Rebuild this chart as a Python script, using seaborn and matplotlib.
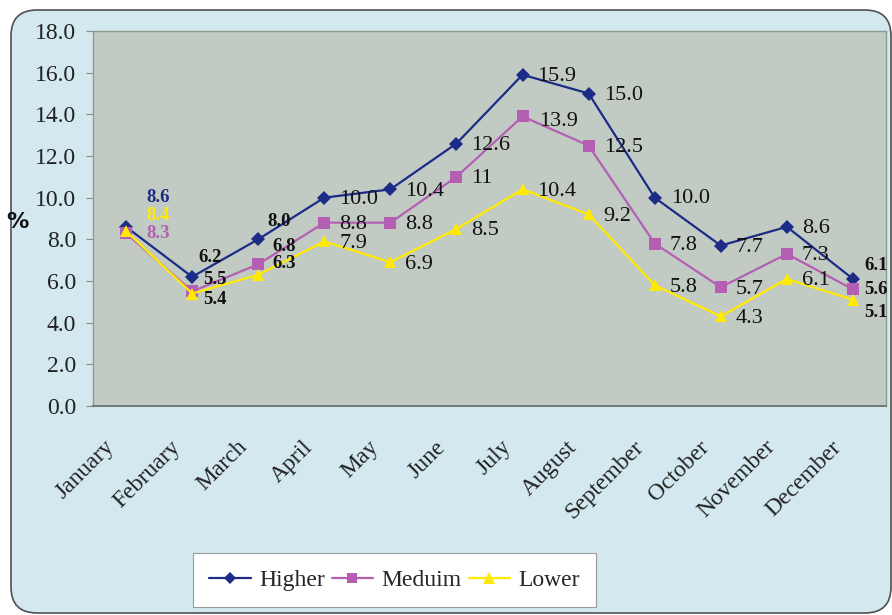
import matplotlib
matplotlib.use("Agg")
import matplotlib.pyplot as plt
from matplotlib.patches import FancyBboxPatch
from matplotlib.transforms import IdentityTransform, ScaledTranslation
from matplotlib.lines import Line2D
import numpy as np
import pandas as pd
import seaborn as sns

# ---- data -------------------------------------------------------------
months = ["January", "February", "March", "April", "May", "June", "July",
          "August", "September", "October", "November", "December"]
higher = [8.6, 6.2, 8.0, 10.0, 10.4, 12.6, 15.9, 15.0, 10.0, 7.7, 8.6, 6.1]
medium = [8.3, 5.5, 6.8, 8.8, 8.8, 11, 13.9, 12.5, 7.8, 5.7, 7.3, 5.6]
lower = [8.4, 5.4, 6.3, 7.9, 6.9, 8.5, 10.4, 9.2, 5.8, 4.3, 6.1, 5.1]
medium_text = ["8.3", "5.5", "6.8", "8.8", "8.8", "11", "13.9", "12.5",
               "7.8", "5.7", "7.3", "5.6"]
series_names = ["Higher", "Meduim", "Lower"]
y_ticks = [0, 2, 4, 6, 8, 10, 12, 14, 16, 18]

# ---- styles -----------------------------------------------------------
colors = {"Higher": "#1c2b86", "Meduim": "#b45fb4", "Lower": "#ffea00"}
markers = {"Higher": "D", "Meduim": "s", "Lower": "^"}
msizes = {"Higher": 7, "Meduim": 8.5, "Lower": 9}
serif = "Liberation Serif"

# label offsets in pixels (dx, dy); default sits to the right of each point
DEFAULT = (15, -2)
offsets = {
    "Higher": {0: (20, 29), 1: (6, 19), 2: (9, 18), 8: (16, -1), 11: (11, 13)},
    "Meduim": {0: (20, 0), 1: (11, 12), 2: (14, 18), 6: (17, -5), 11: (11, 0)},
    "Lower": {0: (20, 15), 1: (11, -6), 2: (14, 11), 11: (11, -13)},
}
bold_idx = {0, 1, 2, 11}

sns.set_theme(style="white")
plt.rcParams["font.family"] = [serif, "DejaVu Serif"]

W, H, DPI = 892, 615, 100
fig = plt.figure(figsize=(W / DPI, H / DPI), dpi=DPI, facecolor="white")

# rounded background card
card = FancyBboxPatch((11, 2), 880, 603,
                      boxstyle="round,pad=0,rounding_size=26",
                      transform=IdentityTransform(), facecolor="#d3e8ef",
                      edgecolor="#505050", linewidth=1.2, zorder=-10)
fig.patches.append(card)

left, right, top, bottom = 93, 886, 31, 406
ax = fig.add_axes([left / W, 1 - bottom / H, (right - left) / W, (bottom - top) / H])
ax.set_facecolor("#c2cbc3")

df = pd.DataFrame({
    "idx": list(range(len(months))) * 3,
    "value": higher + medium + lower,
    "series": np.repeat(series_names, len(months)),
})

for name in series_names:
    sub = df[df["series"] == name]
    sns.lineplot(data=sub, x="idx", y="value", ax=ax, color=colors[name],
                 linewidth=1.6, marker=markers[name], markersize=msizes[name],
                 markeredgewidth=0, label=name, legend=False, zorder=3)

values = {"Higher": higher, "Meduim": medium, "Lower": lower}
texts = {"Higher": [f"{v:.1f}" for v in higher],
         "Meduim": medium_text,
         "Lower": [f"{v:.1f}" for v in lower]}

for name in series_names:
    for i, v in enumerate(values[name]):
        dx, dy = offsets[name].get(i, DEFAULT)
        is_bold = i in bold_idx
        col = colors[name] if i == 0 else "#111111"
        ax.annotate(texts[name][i], (i, v), xytext=(dx, dy),
                    textcoords="offset pixels", ha="left", va="center",
                    fontsize=13.5 if is_bold else 16,
                    fontweight="bold" if is_bold else "normal",
                    color=col, family=serif, zorder=4)

ax.set_xlim(-0.5, len(months) - 0.5)
ax.set_ylim(0, 18)
ax.set_yticks(y_ticks)
ax.set_yticklabels([f"{t:.1f}" for t in y_ticks], fontsize=17, color="#222222")
ax.set_xticks(np.arange(-0.5, len(months)), minor=True)
ax.tick_params(axis="x", which="major", length=0, pad=22)
ax.tick_params(axis="x", which="minor", length=6, width=0.8, color="#8a8a8a",
               direction="out")
ax.tick_params(axis="y", which="major", length=5, width=0.8, color="#8a8a8a",
               direction="out", pad=7, left=True)
ax.set_xlabel("")
ax.set_ylabel("")
for s in ["top", "right", "left"]:
    ax.spines[s].set_color("#8e9a90")
    ax.spines[s].set_linewidth(1.0)
ax.spines["bottom"].set_color("#6f7a72")
ax.spines["bottom"].set_linewidth(1.4)

# month names: rotated, nudged left so their ends sit just left of each slot
ax.set_xticks(range(len(months)))
ax.set_xticklabels(months, rotation=45, ha="right", rotation_mode="anchor",
                   fontsize=17, color="#222222")
fig.canvas.draw()
shift = ScaledTranslation(-22 / DPI, 0, fig.dpi_scale_trans)
for lab in ax.xaxis.get_majorticklabels():
    lab.set_transform(lab.get_transform() + shift)

fig.text(6 / W, 1 - 222 / H, "%", fontsize=16, fontweight="bold",
         family="DejaVu Sans", color="#111111", ha="left", va="center")

handles = [Line2D([0], [0], color=colors[n], marker=markers[n],
                  markersize=msizes[n] - 1, markeredgewidth=0, linewidth=1.6)
           for n in series_names]
leg = fig.legend(handles, series_names, loc="center",
                 bbox_to_anchor=(394.5 / W, 1 - 580 / H), ncol=3,
                 frameon=True, fancybox=False, handlelength=1.75,
                 handletextpad=0.35, columnspacing=0.3, borderpad=0.7,
                 prop={"family": serif, "size": 17})
leg.get_frame().set_facecolor("white")
leg.get_frame().set_edgecolor("#9a9a9a")
leg.get_frame().set_linewidth(0.8)
leg.get_frame().set_alpha(1)

fig.savefig("out.png", dpi=DPI, facecolor="white")
